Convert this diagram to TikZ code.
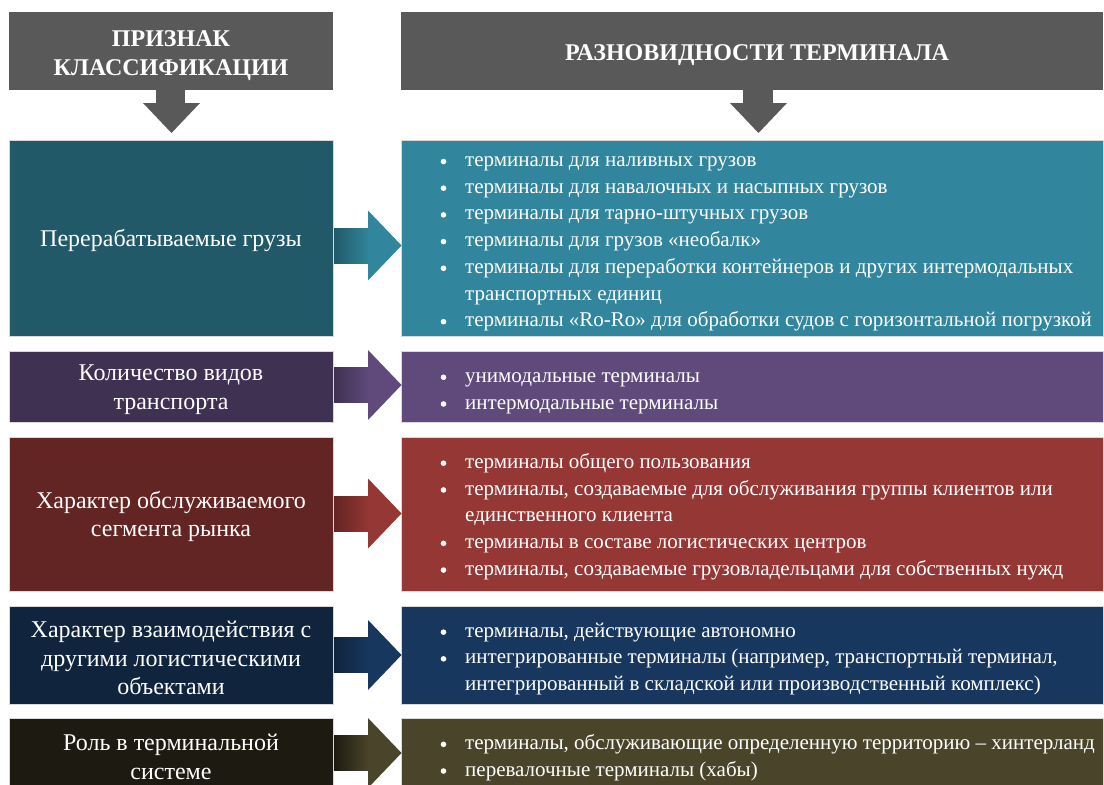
\documentclass[tikz,border=0pt]{standalone}
\usepackage{fontspec}
\setmainfont{Liberation Serif}
\definecolor{hdr}{HTML}{595959}
\definecolor{tealD}{HTML}{215968}
\definecolor{tealL}{HTML}{31859C}
\definecolor{purD}{HTML}{3F3151}
\definecolor{purL}{HTML}{604A7B}
\definecolor{redD}{HTML}{632523}
\definecolor{redL}{HTML}{953735}
\definecolor{navD}{HTML}{10243E}
\definecolor{navL}{HTML}{17375E}
\definecolor{oliD}{HTML}{1D1B11}
\definecolor{oliL}{HTML}{4A452A}
\newcommand{\bdot}{\raisebox{2.3pt}{\tikz\fill[white] (0,0) circle (2.8pt);}}
\newcommand{\bitem}[1]{\makebox[25pt][l]{\hspace*{0.5pt}\bdot}#1}
\newcommand{\bcont}[1]{\hspace*{25pt}#1}
\newcommand{\rowarrow}[3]{%
  \shade[left color=#2, right color=#3] (334,{#1-17.5}) rectangle (369,{#1+17.5});
  \fill[#3] (368,{#1-35}) -- (401.5,#1) -- (368,{#1+35}) -- cycle;}
\begin{document}
\begin{tikzpicture}[x=1pt,y=-1pt,
  box/.style={draw=black!15, line width=0.6pt, inner sep=0pt},
  ltext/.style={text=white, align=center, font=\fontsize{24}{28.5}\selectfont, inner sep=0pt},
  htext/.style={text=white, align=center, font=\bfseries\fontsize{24}{29}\selectfont, inner sep=0pt},
  rtext/.style={text=white, align=left, font=\fontsize{21}{26.7}\selectfont, inner sep=0pt, anchor=west}]
\clip (0,0) rectangle (1104,785);
\fill[white] (0,0) rectangle (1104,785);
% headers
\fill[hdr] (9,12) rectangle (333,90);
\fill[hdr] (401,12) rectangle (1103,90);
\node[htext] (h1) at (171,56) {ПРИЗНАК\\КЛАССИФИКАЦИИ};
\node[htext] (h2) at (757,55) {РАЗНОВИДНОСТИ ТЕРМИНАЛА};
\fill[hdr] (156,89) rectangle (185,103.5);
\fill[hdr] (143,103) -- (200,103) -- (171.5,133) -- cycle;
\fill[hdr] (743,89) rectangle (773,103.5);
\fill[hdr] (730,103) -- (787,103) -- (758.5,133) -- cycle;
% row 1
\filldraw[box, fill=tealD] (9,140) rectangle (333,336);
\filldraw[box, fill=tealL] (401,140) rectangle (1103,336);
\node[ltext] (l1) at (171,240) {Перерабатываемые грузы};
\node[rtext] (r1) at (440,244) {\bitem{терминалы для наливных грузов}\\
\bitem{терминалы для навалочных и насыпных грузов}\\
\bitem{терминалы для тарно-штучных грузов}\\
\bitem{терминалы для грузов «необалк»}\\
\bitem{терминалы для переработки контейнеров и других интермодальных}\\
\bcont{транспортных единиц}\\
\bitem{терминалы «Ro-Ro» для обработки судов с горизонтальной погрузкой}};
\rowarrow{245.5}{tealD}{tealL}
% row 2
\filldraw[box, fill=purD] (9,351) rectangle (333,422);
\filldraw[box, fill=purL] (401,351) rectangle (1103,422);
\node[ltext] (l2) at (171,389.5) {Количество видов\\транспорта};
\node[rtext] (r2) at (440,393) {\bitem{унимодальные терминалы}\\
\bitem{интермодальные терминалы}};
\rowarrow{385}{purD}{purL}
% row 3
\filldraw[box, fill=redD] (9,437) rectangle (333,591);
\filldraw[box, fill=redL] (401,437) rectangle (1103,591);
\node[ltext] (l3) at (171,516.5) {Характер обслуживаемого\\сегмента рынка};
\node[rtext] (r3) at (440,516.5) {\bitem{терминалы общего пользования}\\
\bitem{терминалы, создаваемые для обслуживания группы клиентов или}\\
\bcont{единственного клиента}\\
\bitem{терминалы в составе логистических центров}\\
\bitem{терминалы, создаваемые грузовладельцами для собственных нужд}};
\rowarrow{513.5}{redD}{redL}
% row 4
\filldraw[box, fill=navD] (9,606) rectangle (333,704);
\filldraw[box, fill=navL] (401,606) rectangle (1103,704);
\node[ltext] (l4) at (171,658) {Характер взаимодействия с\\другими логистическими\\объектами};
\node[rtext] (r4) at (440,659) {\bitem{терминалы, действующие автономно}\\
\bitem{интегрированные терминалы (например, транспортный терминал,}\\
\bcont{интегрированный в складской или производственный комплекс)}};
\rowarrow{655}{navD}{navL}
% row 5
\filldraw[box, fill=oliD] (9,718) rectangle (333,800);
\filldraw[box, fill=oliL] (401,718) rectangle (1103,800);
\node[ltext] (l5) at (171,757) {Роль в терминальной\\системе};
\node[rtext] (r5) at (440,757.5) {\bitem{терминалы, обслуживающие определенную территорию -- хинтерланд}\\
\bitem{перевалочные терминалы (хабы)}};
\rowarrow{753}{oliD}{oliL}
\end{tikzpicture}
\end{document}
